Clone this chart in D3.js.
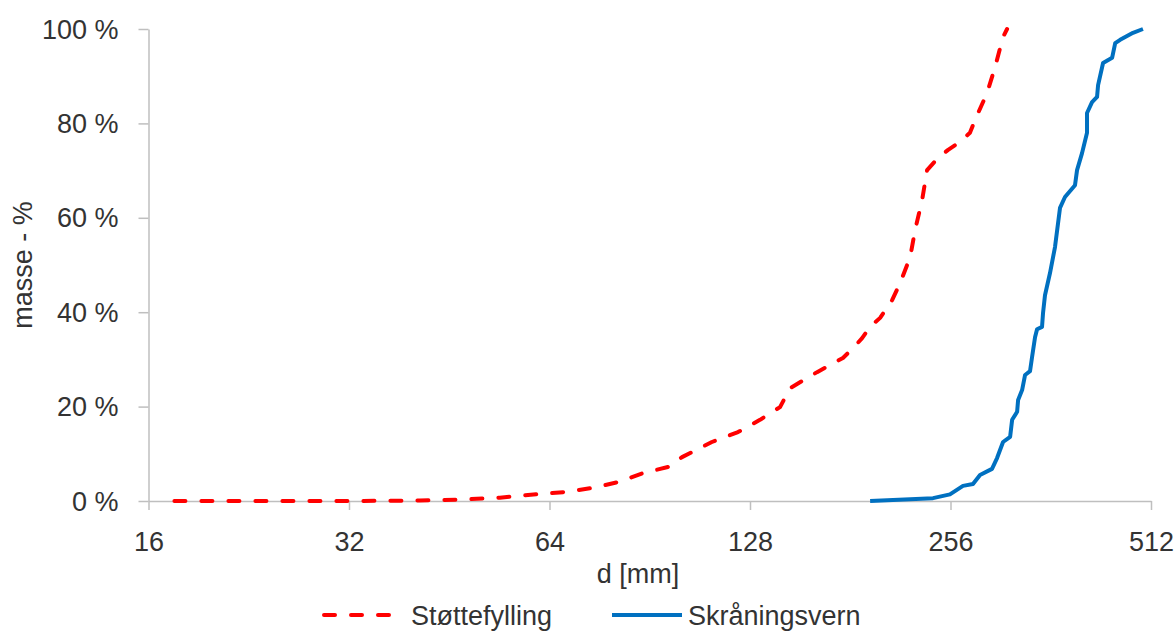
<!DOCTYPE html>
<html>
<head>
<meta charset="utf-8">
<script src="https://cdn.jsdelivr.net/npm/d3@7"></script>
<style>
  html, body { margin: 0; padding: 0; background: #fff; }
  svg { display: block; }
  text { font-family: "Liberation Sans", Arial, sans-serif; fill: #333; }
</style>
</head>
<body>
<svg id="chart" width="1174" height="632"></svg>
<script>
// ---- data (d in mm, cumulative mass fraction) ----
const seriesNames = ["Støttefylling", "Skråningsvern"];
const stotteD = [17.5, 22.7, 32.1, 40.9, 47.0, 53.9, 61.9, 67.5, 74.4, 81.1, 88.4, 96.4, 101.2, 112.2, 122.8, 132.5, 142.0, 147.0, 161.4, 176.5, 182.8, 188.6, 193.9, 200.7, 209.3, 215.1, 222.7, 226.5, 232.1, 236.1, 245.2, 253.9, 264.5, 273.8, 278.6, 290.4, 298.6, 307.0, 311.3];
const stotteP = [0, 0, 0, 0.001, 0.003, 0.007, 0.015, 0.019, 0.028, 0.040, 0.059, 0.072, 0.093, 0.125, 0.146, 0.172, 0.199, 0.239, 0.273, 0.303, 0.324, 0.345, 0.369, 0.388, 0.426, 0.462, 0.517, 0.574, 0.638, 0.701, 0.727, 0.744, 0.761, 0.780, 0.807, 0.864, 0.919, 0.983, 1.0];
const skranD = [193.9, 241.0, 255.5, 267.3, 276.7, 283.5, 295.5, 300.7, 307.0, 314.6, 316.8, 322.3, 323.4, 327.9, 331.3, 337.0, 339.4, 342.9, 345.3, 351.3, 352.5, 354.9, 361.1, 367.4, 373.8, 380.3, 393.7, 396.5, 403.4, 410.4, 410.4, 417.6, 424.9, 426.4, 433.8, 447.6, 452.4, 460.2, 481.1, 498.0];
const skranP = [0, 0.006, 0.014, 0.032, 0.036, 0.055, 0.068, 0.091, 0.125, 0.136, 0.172, 0.189, 0.214, 0.235, 0.267, 0.275, 0.305, 0.347, 0.364, 0.369, 0.398, 0.436, 0.483, 0.538, 0.621, 0.644, 0.669, 0.701, 0.737, 0.780, 0.822, 0.845, 0.856, 0.881, 0.928, 0.939, 0.970, 0.977, 0.992, 1.0];
const xTicks = [16, 32, 64, 128, 256, 512];
const yTicks = [0, 0.2, 0.4, 0.6, 0.8, 1.0];
const xTitle = "d [mm]";
const yTitle = "masse - %";

const svg = d3.select("#chart");
const x = d3.scaleLog().base(2).domain([16, 512]).range([148.5, 1151]);
const y = d3.scaleLinear().domain([0, 1]).range([501, 29]);
const axisColor = "#bfbfbf";
const fontSize = 27;
const textColor = "#333";

// y axis
const yAxis = svg.append("g").attr("transform", `translate(${x(16)},0)`)
  .call(d3.axisLeft(y).tickValues(yTicks).tickSizeInner(10).tickSizeOuter(0).tickPadding(20)
    .tickFormat(d => Math.round(d * 100) + " %"));
yAxis.selectAll("path,line").attr("stroke", axisColor).attr("stroke-width", 1.5);
yAxis.selectAll("text").attr("font-size", fontSize).attr("dy", "0.34em")
  .style("font-family", '"Liberation Sans", Arial, sans-serif').attr("fill", textColor);

// x axis
const xAxis = svg.append("g").attr("transform", `translate(0,${y(0)})`)
  .call(d3.axisBottom(x).tickValues(xTicks).tickSizeInner(9).tickSizeOuter(0).tickPadding(22)
    .tickFormat(d3.format("d")));
xAxis.selectAll("path,line").attr("stroke", axisColor).attr("stroke-width", 1.5);
xAxis.selectAll("text").attr("font-size", fontSize).attr("dy", "0.71em")
  .style("font-family", '"Liberation Sans", Arial, sans-serif').attr("fill", textColor);

// titles
svg.append("text").attr("x", 638).attr("y", 583).attr("text-anchor", "middle")
  .attr("font-size", fontSize).text(xTitle);
svg.append("text").attr("transform", `translate(32,${(y(0) + y(1)) / 2}) rotate(-90)`)
  .attr("text-anchor", "middle").attr("font-size", fontSize).text(yTitle);

// lines
const line = d3.line().x(d => x(d[0])).y(d => y(d[1]));
const stotte = stotteD.map((d, i) => [d, stotteP[i]]);
const skran = skranD.map((d, i) => [d, skranP[i]]);

svg.append("path").datum(skran).attr("d", line)
  .attr("fill", "none").attr("stroke", "#0070c0").attr("stroke-width", 4)
  .attr("stroke-linejoin", "round");
svg.append("path").datum(stotte).attr("d", line)
  .attr("fill", "none").attr("stroke", "#ff0000").attr("stroke-width", 4)
  .attr("stroke-dasharray", "11,16").attr("stroke-linecap", "round").attr("stroke-linejoin", "round");

// legend
const lg = svg.append("g");
lg.append("line").attr("x1", 324).attr("x2", 402).attr("y1", 615).attr("y2", 615)
  .attr("stroke", "#ff0000").attr("stroke-width", 4).attr("stroke-dasharray", "11,16")
  .attr("stroke-linecap", "round");
lg.append("text").attr("x", 411).attr("y", 625).attr("font-size", fontSize).text(seriesNames[0]);
lg.append("line").attr("x1", 612).attr("x2", 682).attr("y1", 615).attr("y2", 615)
  .attr("stroke", "#0070c0").attr("stroke-width", 4);
lg.append("text").attr("x", 688).attr("y", 625).attr("font-size", fontSize).text(seriesNames[1]);
</script>
</body>
</html>
